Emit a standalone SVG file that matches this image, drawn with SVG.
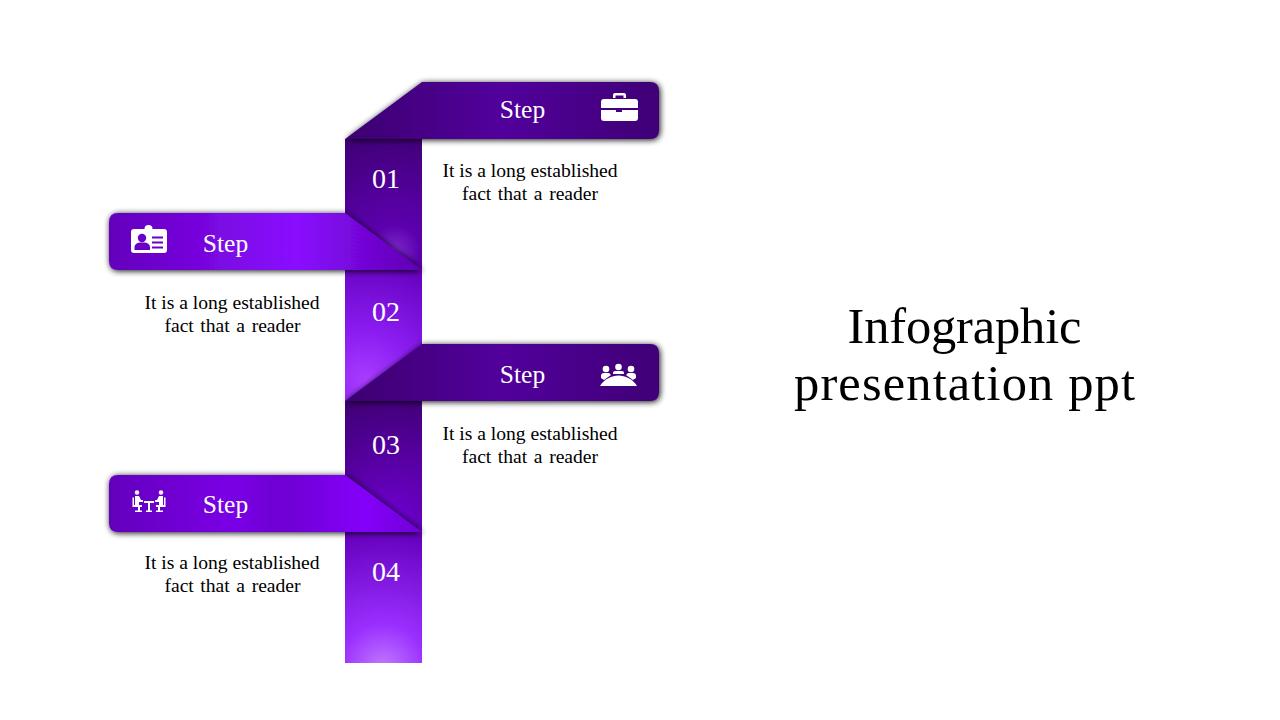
<svg xmlns="http://www.w3.org/2000/svg" width="1280" height="720" viewBox="0 0 1280 720">
<style>
text{font-family:"Liberation Serif","DejaVu Serif",serif;text-anchor:middle}
.body{font-size:19.600px;fill:#000}
.wide{word-spacing:1.700px}
.step{font-size:25.500px;fill:#fff}
.num{font-size:28px;fill:#fff}
.title{font-size:50.500px;fill:#000}
.ic{fill:#fff}
</style>
<defs>
<filter id="sh" x="-10%" y="-30%" width="120%" height="160%"><feGaussianBlur in="SourceAlpha" stdDeviation="3"/><feOffset dx="1" dy="1"/><feComponentTransfer><feFuncA type="linear" slope="0.95"/></feComponentTransfer><feMerge><feMergeNode/><feMergeNode in="SourceGraphic"/></feMerge></filter>
<linearGradient id="bd" gradientUnits="userSpaceOnUse" x1="345" y1="0" x2="659" y2="0"><stop offset="0" stop-color="#3c0070"/><stop offset="0.5" stop-color="#52009c"/><stop offset="1" stop-color="#3f0076"/></linearGradient>
<linearGradient id="bl1" gradientUnits="userSpaceOnUse" x1="109" y1="0" x2="422" y2="0"><stop offset="0" stop-color="#6400bc"/><stop offset="0.6" stop-color="#8a0cff"/><stop offset="1" stop-color="#5f00b2"/></linearGradient>
<linearGradient id="bl2" gradientUnits="userSpaceOnUse" x1="109" y1="0" x2="422" y2="0"><stop offset="0" stop-color="#6400bc"/><stop offset="0.4" stop-color="#7a00e6"/><stop offset="0.55" stop-color="#6e00d2"/><stop offset="0.82" stop-color="#8405fa"/><stop offset="1" stop-color="#7000d4"/></linearGradient>
<radialGradient id="s1" gradientUnits="userSpaceOnUse" cx="395" cy="250" r="125"><stop offset="0" stop-color="#7a28c8"/><stop offset="0.2" stop-color="#5c00ae"/><stop offset="1" stop-color="#3e0072"/></radialGradient>
<radialGradient id="s2" gradientUnits="userSpaceOnUse" cx="365" cy="380" r="125"><stop offset="0" stop-color="#a83cff"/><stop offset="0.4" stop-color="#8a1cf0"/><stop offset="1" stop-color="#6400bc"/></radialGradient>
<radialGradient id="s3" gradientUnits="userSpaceOnUse" cx="395" cy="515" r="125"><stop offset="0" stop-color="#6c00cc"/><stop offset="1" stop-color="#3e0072"/></radialGradient>
<radialGradient id="s4" gradientUnits="userSpaceOnUse" cx="383" cy="668" r="138"><stop offset="0" stop-color="#c07aff"/><stop offset="0.32" stop-color="#9a2eff"/><stop offset="1" stop-color="#6400bc"/></radialGradient>
</defs>
<g id="connectors"/>
<g id="strip">
<rect id="seg-01" x="345" y="139" width="77" height="131" fill="url(#s1)"/>
<rect id="seg-02" x="345" y="270" width="77" height="131" fill="url(#s2)"/>
<rect id="seg-03" x="345" y="401" width="77" height="131" fill="url(#s3)"/>
<rect id="seg-04" x="345" y="532" width="77" height="131" fill="url(#s4)"/>
<text class="num" x="386" y="188">01</text>
<text class="num" x="386" y="321">02</text>
<text class="num" x="386" y="454">03</text>
<text class="num" x="386" y="581">04</text>
</g>
<g id="step-1">
<path d="M345 139L422 82H650Q659 82 659 91V130Q659 139 650 139Z" fill="url(#bd)" filter="url(#sh)"/>
<text class="step" x="522.500" y="118">Step</text>
<g class="ic"><path d="M601 102a3 3 0 0 1 3-3H635a3 3 0 0 1 3 3V108H601Z"/><path d="M601 110H616V112H622V110H638V118a3 3 0 0 1-3 3H604a3 3 0 0 1-3-3Z"/><path d="M613 98V95a2 2 0 0 1 2-2H624a2 2 0 0 1 2 2V98H623.500V95.500H615.500V98Z"/></g>
<text class="body" x="530" y="177">It is a long established</text>
<text class="body wide" x="530" y="200">fact that a reader</text>
</g>
<g id="step-2">
<path d="M118 213H345L422 270H118Q109 270 109 261V222Q109 213 118 213Z" fill="url(#bl1)" filter="url(#sh)"/>
<text class="step" x="225.500" y="252">Step</text>
<g class="ic"><path d="M134 229H144.500a4 4 0 1 1 8 0H164a3 3 0 0 1 3 3V250a3 3 0 0 1-3 3H134a3 3 0 0 1-3-3V232a3 3 0 0 1 3-3Z"/></g>
<circle cx="142" cy="238" r="4.200" fill="#6a00c8"/><path d="M134.500 250V247a6 4.500 0 0 1 6-4.500H144a6 4.500 0 0 1 6 4.500V250Z" fill="#6a00c8"/>
<path d="M152 237.500H163M152 242.500H163M152 247.500H163" stroke="#6a00c8" stroke-width="1.800" fill="none"/>
<text class="body" x="232" y="309">It is a long established</text>
<text class="body wide" x="232.500" y="332">fact that a reader</text>
</g>
<g id="step-3">
<path d="M345 401L422 344H650Q659 344 659 353V392Q659 401 650 401Z" fill="url(#bd)" filter="url(#sh)"/>
<text class="step" x="522.500" y="383">Step</text>
<g class="ic"><circle cx="606" cy="369" r="3.300"/><circle cx="618.500" cy="367" r="3.300"/><circle cx="631" cy="369" r="3.300"/><path d="M601 378V376a3 3 0 0 1 3-3H609l2 2-7 5ZM636 378V376a3 3 0 0 0-3-3H628l-2 2 7 5ZM613 374V373a2 2 0 0 1 2-2H622a2 2 0 0 1 2 2V374Z"/><path d="M600 386C604 379 612 375.500 618.500 375.500S633 379 637 386Z"/></g>
<text class="body" x="530" y="440">It is a long established</text>
<text class="body wide" x="530" y="463">fact that a reader</text>
</g>
<g id="step-4">
<path d="M118 475H345L422 532H118Q109 532 109 523V484Q109 475 118 475Z" fill="url(#bl2)" filter="url(#sh)"/>
<text class="step" x="225.500" y="513">Step</text>
<g class="ic"><circle cx="137" cy="492.500" r="2.200"/><circle cx="161" cy="492.500" r="2.200"/><path d="M135 496H139L141 500H143V502H139V506H135ZM163 496H159L157 500H155V502H159V506H163Z"/><path d="M144 501H154V503H150V510.500H152V512H146V510.500H148V503H144Z"/><path d="M132.500 497.500H134V505H142V507H140V510.500H142V512H135V510.500H138V507H132.500ZM165.500 497.500H164V505H156V507H158V510.500H156V512H163V510.500H160V507H165.500Z"/></g>
<text class="body" x="232" y="569">It is a long established</text>
<text class="body wide" x="232.500" y="592">fact that a reader</text>
</g>
<g id="title">
<text class="title" x="964.500" y="343" textLength="234">Infographic</text>
<text class="title" x="964.500" y="400" textLength="341">presentation ppt</text>
</g>
</svg>
